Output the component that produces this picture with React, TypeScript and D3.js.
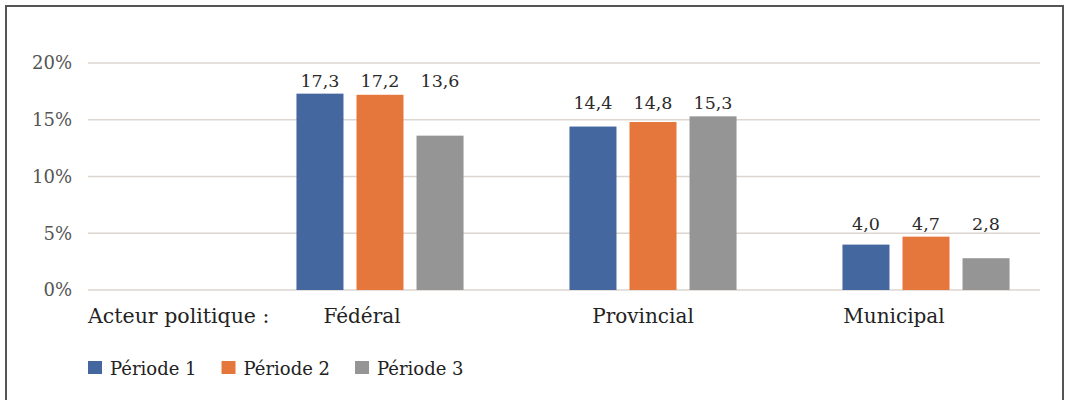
import React, { useEffect, useRef } from "react";
import * as d3 from "d3";

const categories = ["Fédéral", "Provincial", "Municipal"];
const series = ["Période 1", "Période 2", "Période 3"];
const periode1 = [17.3, 14.4, 4.0];
const periode2 = [17.2, 14.8, 4.7];
const periode3 = [13.6, 15.3, 2.8];
const yTicks = [0, 5, 10, 15, 20];
const axisTitle = "Acteur politique :";
const colors = ["#4567a0", "#e5773c", "#959595"];

const W = 1065;
const H = 400;

export default function App() {
  const ref = useRef<SVGSVGElement | null>(null);

  useEffect(() => {
    const svg = d3.select(ref.current);
    svg.selectAll("*").remove();
    const font = "'DejaVu Serif', serif";
    const values = [periode1, periode2, periode3];

    // frame
    svg.append("rect").attr("x", 6).attr("y", 6).attr("width", 1057).attr("height", 400)
      .attr("fill", "#fff").attr("stroke", "#555").attr("stroke-width", 2);

    const y = d3.scaleLinear().domain([0, 20]).range([290, 63]);
    const gridX0 = 88, gridX1 = 1040;

    const x0 = d3.scaleBand<string>().domain(categories).range([243.5, 1062.5])
      .paddingInner(0.388).paddingOuter(0.194);
    const x1 = d3.scaleBand<string>().domain(series).range([0, x0.bandwidth()])
      .paddingInner(0.2167).paddingOuter(0);

    // gridlines
    svg.append("g").selectAll("line").data(yTicks).join("line")
      .attr("x1", gridX0).attr("x2", gridX1)
      .attr("y1", d => y(d)).attr("y2", d => y(d))
      .attr("stroke", "#ddd6cf").attr("stroke-width", 1.5);

    // tick labels
    svg.append("g").selectAll("text").data(yTicks).join("text")
      .attr("x", 72).attr("y", d => y(d)).attr("dy", "0.35em")
      .attr("text-anchor", "end").attr("font-family", font).attr("font-size", 18)
      .attr("fill", "#555").text(d => `${d}%`);

    // bars
    const groups = svg.append("g").selectAll("g").data(categories).join("g")
      .attr("transform", c => `translate(${x0(c)},0)`);
    groups.each(function (c, ci) {
      const g = d3.select(this);
      const groupMax = d3.max(values, v => v[ci]) as number;
      series.forEach((s, si) => {
        const v = values[si][ci];
        g.append("rect").attr("x", x1(s)!).attr("width", x1.bandwidth())
          .attr("y", y(v)).attr("height", y(0) - y(v)).attr("fill", colors[si]);
        g.append("text").attr("x", x1(s)! + x1.bandwidth() / 2).attr("y", y(groupMax) - 7)
          .attr("text-anchor", "middle").attr("font-family", font).attr("font-size", 17.5)
          .attr("fill", "#2a2a2a").text(d3.format(".1f")(v).replace(".", ","));
      });
    });

    // category labels
    const labelShift = [-18, -10, -32];
    svg.append("g").selectAll("text").data(categories).join("text")
      .attr("x", (c, i) => x0(c)! + x0.bandwidth() / 2 + labelShift[i]).attr("y", 323)
      .attr("text-anchor", "middle").attr("font-family", font).attr("font-size", 20)
      .attr("fill", "#222").text(c => c);
    svg.append("text").attr("x", 88).attr("y", 323).attr("font-family", font)
      .attr("font-size", 20.5).attr("fill", "#222").text(axisTitle);

    // legend
    const leg = svg.append("g");
    let lx = 88;
    series.forEach((s, i) => {
      leg.append("rect").attr("x", lx).attr("y", 361).attr("width", 14).attr("height", 13)
        .attr("fill", colors[i]);
      const t = leg.append("text").attr("x", lx + 22).attr("y", 375).attr("font-family", font)
        .attr("font-size", 18).attr("fill", "#222").text(s);
      const w = (t.node() as SVGTextElement).getComputedTextLength();
      lx += 22 + w + 25;
    });
  }, []);

  return (
    <svg ref={ref} width={W} height={H}
      style={{ position: "absolute", left: 0, top: 0, background: "#fff" }} />
  );
}
